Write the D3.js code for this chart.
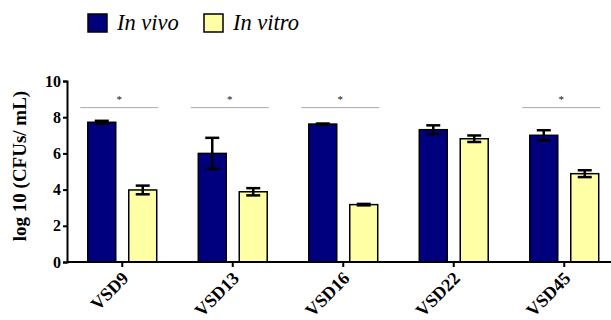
<!DOCTYPE html>
<html>
<head>
<meta charset="utf-8">
<script src="https://cdn.jsdelivr.net/npm/d3@7"></script>
<style>
  body { margin: 0; background: #fff; }
  svg { display: block; }
</style>
</head>
<body>
<svg width="611" height="320"></svg>
<script>
// data
var strains = ["VSD9", "VSD13", "VSD16", "VSD22", "VSD45"];
var groups = ["In vivo", "In vitro"];
var inVivo = [7.72, 6.0, 7.62, 7.31, 7.0];
var inVivoErr = [0.08, 0.86, 0.03, 0.24, 0.28];
var inVitro = [3.98, 3.88, 3.17, 6.81, 4.88];
var inVitroErr = [0.24, 0.2, 0.04, 0.18, 0.19];
var significant = ["VSD9", "VSD13", "VSD16", "VSD45"];
var yTicks = [0, 2, 4, 6, 8, 10];
var sigLevel = 8.53;

var colors = { "In vivo": "#00007f", "In vitro": "#ffffa6" };

var svg = d3.select("svg"),
    plotLeft = 67, plotBottom = 262, plotTop = 81;

var x0 = d3.scaleBand()
    .domain(strains)
    .range([plotLeft, 619.5])
    .paddingInner(0.376)
    .paddingOuter(0.188);

var x1 = d3.scaleBand()
    .domain(groups)
    .range([0, x0.bandwidth()])
    .paddingInner(0.317);

var y = d3.scaleLinear()
    .domain([0, 10])
    .range([plotBottom, plotTop]);

var rows = strains.map(function(s, i) {
    return [
        { strain: s, group: "In vivo", value: inVivo[i], err: inVivoErr[i] },
        { strain: s, group: "In vitro", value: inVitro[i], err: inVitroErr[i] }
    ];
});

// bars
var g = svg.selectAll(".strain")
    .data(rows)
    .enter().append("g")
        .attr("class", "strain")
        .attr("transform", function(d) { return "translate(" + x0(d[0].strain) + ",0)"; });

g.selectAll("rect")
    .data(function(d) { return d; })
    .enter().append("rect")
        .attr("x", function(d) { return x1(d.group); })
        .attr("y", function(d) { return y(d.value); })
        .attr("width", x1.bandwidth())
        .attr("height", function(d) { return y(0) - y(d.value); })
        .attr("fill", function(d) { return colors[d.group]; })
        .attr("stroke", "#000")
        .attr("stroke-width", 1.5);

// error bars (upper and lower)
var eb = g.selectAll(".err")
    .data(function(d) { return d; })
    .enter().append("g")
        .attr("class", "err")
        .attr("stroke", "#000")
        .attr("stroke-width", 2.5);

eb.append("line")
    .attr("x1", function(d) { return x1(d.group) + x1.bandwidth() / 2; })
    .attr("x2", function(d) { return x1(d.group) + x1.bandwidth() / 2; })
    .attr("y1", function(d) { return y(d.value + d.err); })
    .attr("y2", function(d) { return y(d.value - d.err); });

eb.selectAll(".cap")
    .data(function(d) { return [d.value + d.err, d.value - d.err].map(function(v) { return { v: v, d: d }; }); })
    .enter().append("line")
        .attr("x1", function(c) { return x1(c.d.group) + x1.bandwidth() / 2 - 7; })
        .attr("x2", function(c) { return x1(c.d.group) + x1.bandwidth() / 2 + 7; })
        .attr("y1", function(c) { return y(c.v); })
        .attr("y2", function(c) { return y(c.v); });

// significance marks
var sig = svg.selectAll(".sig")
    .data(significant)
    .enter().append("g")
        .attr("class", "sig")
        .attr("transform", function(d) { return "translate(" + (x0(d) + x0.bandwidth() / 2 - 3) + ",0)"; });

sig.append("line")
    .attr("x1", -39).attr("x2", 39)
    .attr("y1", y(sigLevel)).attr("y2", y(sigLevel))
    .attr("stroke", "#aaa")
    .attr("stroke-width", 1);

sig.append("text")
    .attr("y", y(sigLevel) - 5)
    .attr("text-anchor", "middle")
    .attr("font-family", "Liberation Serif, serif")
    .attr("font-size", 11)
    .attr("fill", "#111")
    .text("*");

// axes
var yAxis = svg.append("g")
    .attr("transform", "translate(" + plotLeft + ",0)")
    .call(d3.axisLeft(y).tickValues(yTicks).tickSize(4).tickPadding(2));

var xAxis = svg.append("g")
    .attr("transform", "translate(0," + plotBottom + ")")
    .call(d3.axisBottom(x0).tickSize(5).tickSizeOuter(0).tickFormat(""));

svg.selectAll(".domain, .tick line")
    .attr("stroke", "#000")
    .attr("stroke-width", 2);

xAxis.select(".domain").attr("d", "M" + plotLeft + ",0H611");

yAxis.selectAll("text")
    .attr("font-family", "Liberation Serif, serif")
    .attr("font-weight", "bold")
    .attr("font-size", 16)
    .attr("fill", "#000");

svg.append("g").selectAll("text")
    .data(strains)
    .enter().append("text")
        .attr("transform", function(d) {
            return "translate(" + (x0(d) + x0.bandwidth() / 2 + 3) + "," + (plotBottom + 13) + ") rotate(-45)";
        })
        .attr("text-anchor", "end")
        .attr("dy", "0.35em")
        .attr("font-family", "Liberation Serif, serif")
        .attr("font-weight", "bold")
        .attr("font-size", 18)
        .text(function(d) { return d; });

svg.append("text")
    .attr("transform", "translate(26,166) rotate(-90)")
    .attr("text-anchor", "middle")
    .attr("font-family", "Liberation Serif, serif")
    .attr("font-weight", "bold")
    .attr("font-size", 19)
    .text("log 10 (CFUs/ mL)");

// legend
var legend = svg.selectAll(".legend")
    .data(groups)
    .enter().append("g")
        .attr("class", "legend")
        .attr("transform", function(d, i) { return "translate(" + (88 + i * 116) + ",14)"; });

legend.append("rect")
    .attr("width", 19).attr("height", 18)
    .attr("fill", function(d) { return colors[d]; })
    .attr("stroke", "#000")
    .attr("stroke-width", 1.5);

legend.append("text")
    .attr("x", 29).attr("y", 16)
    .attr("font-family", "Liberation Serif, serif")
    .attr("font-style", "italic")
    .attr("font-size", 22.5)
    .text(function(d) { return d; });
</script>
</body>
</html>
